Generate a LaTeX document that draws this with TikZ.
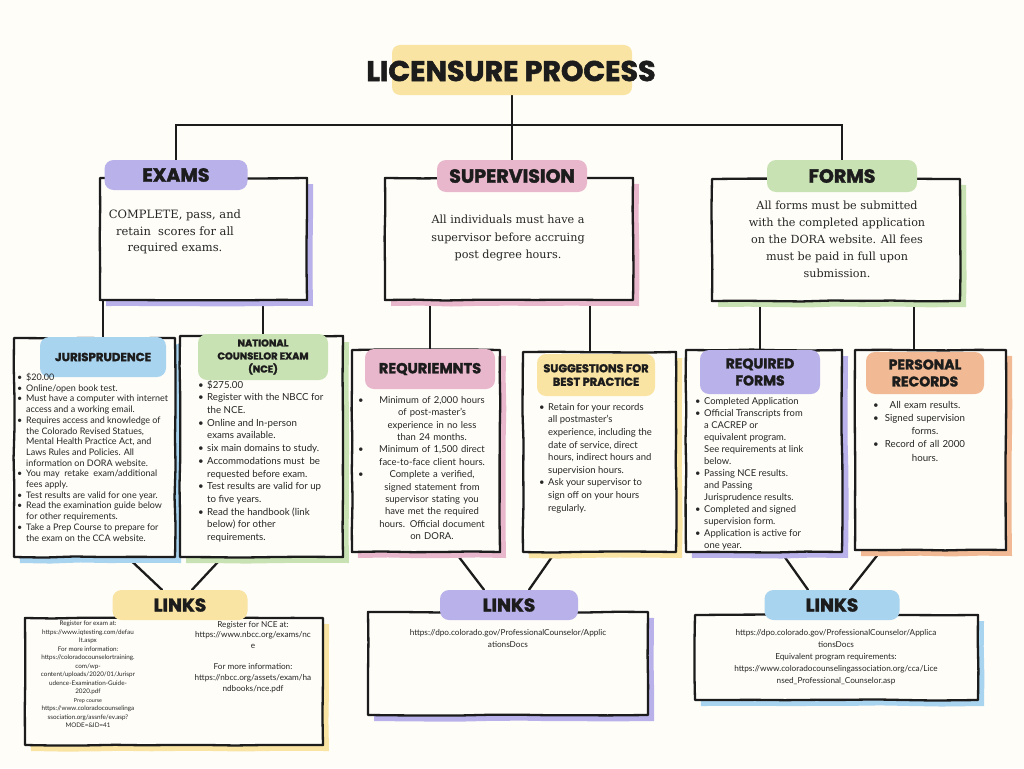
\documentclass[tikz,border=0pt]{standalone}
\usepackage{fontspec}
\setmainfont{Lato}
\newfontfamily\labf{Poppins}[BoldFeatures={FakeBold=2}]
\newfontfamily\serf{DejaVu Serif}
\usetikzlibrary{shadows,decorations.pathmorphing}
\definecolor{bg}{HTML}{FEFDF8}
\definecolor{cpur}{HTML}{B9B1EA}
\definecolor{cpink}{HTML}{E8B7CC}
\definecolor{cgreen}{HTML}{C9E2B3}
\definecolor{cblue}{HTML}{A9D4EF}
\definecolor{cyel}{HTML}{F9E4A3}
\definecolor{corange}{HTML}{F1BA94}
\definecolor{ink}{HTML}{1C1C1C}
\definecolor{tx}{HTML}{262626}
\pgfdeclarelayer{bgl}
\pgfdeclarelayer{back}
\pgfsetlayers{bgl,back,main}
\newcommand{\bi}{\makebox[9pt][l]{•}}
\newcommand{\ind}{\hspace*{9pt}}
\newcommand{\cb}[1]{\makebox[\hsize]{\rlap{•}\hfill#1\hfill}}
\tikzset{
  frame/.style={draw=ink, line width=2.3pt, fill=bg, line join=round, inner sep=0pt,
    decorate, decoration={random steps, segment length=30pt, amplitude=0.6pt}},
  shad/.style={drop shadow={shadow xshift=6pt, shadow yshift=-6pt, fill=#1, opacity=1}},
  pill/.style={fill=#1, rounded corners=9pt, inner sep=0pt, text=ink, align=center},
  labtext/.style={font=\labf\bfseries\fontsize{#1}{#1}\selectfont},
  conn/.style={draw=ink, line width=2.3pt, line cap=round},
  body/.style={inner sep=0pt, align=left, text=tx},
  topbody/.style={inner sep=0pt, align=center, text=tx},
}
\begin{document}
\begin{tikzpicture}[x=1pt,y=-1pt]
\pgfmathsetseed{11}
\useasboundingbox (0,0) rectangle (1024,768);
\begin{pgfonlayer}{bgl}
\fill[bg] (0,0) rectangle (1024,768);
\end{pgfonlayer}

% title
\node[pill=cyel, minimum width=240pt, minimum height=50pt, rounded corners=8pt] (hl) at (512,70) {};
\node[labtext=28.5, text=ink, inner sep=0pt] (title) at (511,71) {LICENSURE PROCESS};

% top frames
\node[frame, shad=cpur, minimum width=207pt, minimum height=122pt] (exf) at (203.5,239) {};
\node[frame, shad=cpink, minimum width=248pt, minimum height=122pt] (svf) at (509,239) {};
\node[frame, shad=cgreen, minimum width=248pt, minimum height=122pt] (fmf) at (836,240) {};

\node[pill=cpur, minimum width=143pt, minimum height=30pt, labtext=19] (exlab) at (176,175) {EXAMS};
\node[pill=cpink, minimum width=150pt, minimum height=32pt, labtext=19] (svlab) at (512,176) {SUPERVISION};
\node[pill=cgreen, minimum width=150pt, minimum height=32pt, labtext=19] (fmlab) at (842,176) {FORMS};

\node[topbody, font=\serf\fontsize{11.5}{16.5}\selectfont] (ext) at (175,232) {COMPLETE, pass, and\\ retain~ scores for all\\ required exams.};
\node[topbody, font=\serf\fontsize{11.2}{17.5}\selectfont] (svt) at (508,238) {All individuals must have a\\ supervisor before accruing\\ post degree hours.};
\node[topbody, font=\serf\fontsize{11.2}{17}\selectfont] (fmt) at (837,239) {All forms must be submitted\\ with the completed application\\ on the DORA website. All fees\\ must be paid in full upon\\ submission.};

% second row frames
\node[frame, shad=cblue, minimum width=161pt, minimum height=219pt] (jurf) at (94.5,447.5) {};
\node[frame, shad=cgreen, minimum width=163pt, minimum height=221pt] (ncef) at (261.5,446.5) {};
\node[frame, shad=cpink, minimum width=148pt, minimum height=202pt] (reqf) at (426,451) {};
\node[frame, shad=cyel, minimum width=153pt, minimum height=200pt] (sugf) at (599.5,452) {};
\node[frame, shad=cpur, minimum width=156pt, minimum height=202pt] (rff) at (764,451) {};
\node[frame, shad=corange, minimum width=151pt, minimum height=200pt] (prf) at (930.5,450) {};

\node[pill=cblue, minimum width=126pt, minimum height=40pt, labtext=11.8] (jurlab) at (103,357) {JURISPRUDENCE};
\node[pill=cgreen, minimum width=130pt, minimum height=46pt, font=\labf\bfseries\fontsize{9.9}{13}\selectfont] (ncelab) at (263,357) {NATIONAL\\COUNSELOR EXAM\\(NCE)};
\node[pill=cpink, minimum width=130pt, minimum height=40pt, labtext=14.5] (reqlab) at (430,369) {REQURIEMNTS};
\node[pill=cyel, minimum width=118pt, minimum height=42pt, font=\labf\bfseries\fontsize{11.4}{13.5}\selectfont] (suglab) at (596,375) {SUGGESTIONS FOR\\BEST PRACTICE};
\node[pill=cpur, minimum width=120pt, minimum height=44pt, font=\labf\bfseries\fontsize{14}{17}\selectfont] (rflab) at (760,372) {REQUIRED\\FORMS};
\node[pill=corange, minimum width=118pt, minimum height=42pt, font=\labf\bfseries\fontsize{14}{17}\selectfont] (prlab) at (925,373) {PERSONAL\\RECORDS};

% second row texts
\node[body, anchor=north west, font=\fontsize{9}{10.7}\selectfont] (jurt) at (17,373) {\bi\$20.00\\
\bi Online/open book test.\\
\bi Must have a computer with internet\\
\ind access and a working email.\\
\bi Requires access and knowledge of\\
\ind the Colorado Revised Statues,\\
\ind Mental Health Practice Act, and\\
\ind Laws Rules and Policies. All\\
\ind information on DORA website.\\
\bi You may~ retake~ exam/additional\\
\ind fees apply.\\
\bi Test results are valid for one year.\\
\bi Read the examination guide below\\
\ind for other requirements.\\
\bi Take a Prep Course to prepare for\\
\ind the exam on the CCA website.};

\node[body, anchor=north west, font=\fontsize{9.7}{12.7}\selectfont] (ncet) at (198,380) {\bi\$275.00\\
\bi Register with the NBCC for\\
\ind the NCE.\\
\bi Online and In-person\\
\ind exams available.\\
\bi six main domains to study.\\
\bi Accommodations must~ be\\
\ind requested before exam.\\
\bi Test results are valid for up\\
\ind to five years.\\
\bi Read the handbook (link\\
\ind below) for other\\
\ind requirements.};

\node[body, align=center, text width=148pt, anchor=north, font=\fontsize{9.5}{12.4}\selectfont] (reqt) at (432,396) {\cb{Minimum of 2,000 hours}\\
of post-master's\\
experience in no less\\
than 24 months.\\
\cb{Minimum of 1,500 direct}\\
face-to-face client hours.\\
\cb{Complete a verified,}\\
signed statement from\\
supervisor stating you\\
have met the required\\
hours. Official document\\
on DORA.};

\node[body, anchor=north west, font=\fontsize{9.5}{12.6}\selectfont] (sugt) at (539,403) {\bi Retain for your records\\
\ind all postmaster's\\
\ind experience, including the\\
\ind date of service, direct\\
\ind hours, indirect hours and\\
\ind supervision hours.\\
\bi Ask your supervisor to\\
\ind sign off on your hours\\
\ind regularly.};

\node[body, anchor=north west, font=\fontsize{9.4}{12}\selectfont] (rft) at (695,397) {\bi Completed Application\\
\bi Official Transcripts from\\
\ind a CACREP or\\
\ind equivalent program.\\
\ind See requirements at link\\
\ind below.\\
\bi Passing NCE results.\\
\ind and Passing\\
\ind Jurisprudence results.\\
\bi Completed and signed\\
\ind supervision form.\\
\bi Application is active for\\
\ind one year.};

\node[body, align=center, text width=104pt, anchor=north, font=\fontsize{9.7}{13.2}\selectfont] (prt) at (925,401) {\cb{All exam results.}\\
\cb{Signed supervision}\\
forms.\\
\cb{Record of all 2000}\\
hours.};

% links frames
\node[frame, shad=cyel, minimum width=298pt, minimum height=127pt] (l1f) at (174,681.5) {};
\node[frame, shad=cpur, minimum width=280pt, minimum height=103pt] (l2f) at (508,663.5) {};
\node[frame, shad=cblue, minimum width=283pt, minimum height=85pt] (l3f) at (836.5,657.5) {};

\node[pill=cyel, minimum width=135pt, minimum height=30pt, labtext=18.5] (l1lab) at (180,605) {LINKS};
\node[pill=cpur, minimum width=138pt, minimum height=30pt, labtext=18.5] (l2lab) at (509,605) {LINKS};
\node[pill=cblue, minimum width=135pt, minimum height=30pt, labtext=18.5] (l3lab) at (832,605) {LINKS};

\node[body, align=center, anchor=north, font=\fontsize{6.3}{8.5}\selectfont] (l1a) at (88,621) {Register for exam at:\\
https://www.iqtesting.com/defau\\
lt.aspx\\
For more information:\\
https://coloradocounselortraining.\\
com/wp-\\
content/uploads/2020/01/Jurispr\\
udence-Examination-Guide-\\
2020.pdf\\
{\fontsize{5.4}{8.5}\selectfont Prep course}\\
https://www.coloradocounselinga\\
ssociation.org/assnfe/ev.asp?\\
MODE=\&ID=41};

\node[body, align=center, anchor=north, font=\fontsize{8.2}{10.7}\selectfont] (l1b) at (253,621) {Register for NCE at:\\
https://www.nbcc.org/exams/nc\\
e\\[10.7pt]
For more information:\\
https://nbcc.org/assets/exam/ha\\
ndbooks/nce.pdf};

\node[body, align=center, anchor=north, font=\fontsize{8.2}{12}\selectfont] (l2t) at (508,629) {https://dpo.colorado.gov/ProfessionalCounselor/Applic\\
ationsDocs};

\node[body, align=center, anchor=north, font=\fontsize{8.2}{12}\selectfont] (l3t) at (836,629) {https://dpo.colorado.gov/ProfessionalCounselor/Applica\\
tionsDocs\\
Equivalent program requirements:\\
https://www.coloradocounselingassociation.org/cca/Lice\\
nsed\_Professional\_Counselor.asp};

% connectors
\begin{pgfonlayer}{back}
\coordinate (j) at (512,125);
\draw[conn] (hl.south) -- (j);
\draw[conn] (exlab.north) |- (j) -| (fmlab.north);
\draw[conn] (j) -- (svlab.north);
\draw[conn] (exf.south -| jurlab.north) -- (jurlab.north);
\draw[conn] (exf.south -| ncelab.north) -- (ncelab.north);
\draw[conn] (svf.south -| reqlab.north) -- (reqlab.north);
\draw[conn] ([xshift=-6pt]svf.south -| suglab.north) -- ([xshift=-6pt]suglab.north);
\draw[conn] (fmf.south -| rflab.north) -- (rflab.north);
\draw[conn] ([xshift=-11pt]fmf.south -| prlab.north) -- ([xshift=-11pt]prlab.north);
\draw[conn] ([xshift=34pt]jurf.south) -- ([xshift=-18pt]l1lab.north);
\draw[conn] ([xshift=-40pt]ncef.south) -- ([xshift=12pt]l1lab.north);
\draw[conn] ([xshift=30pt]reqf.south) -- ([xshift=-25pt]l2lab.north);
\draw[conn] ([xshift=-45pt]sugf.south) -- ([xshift=20pt]l2lab.north);
\draw[conn] ([xshift=18pt]rff.south) -- ([xshift=-24pt]l3lab.north);
\draw[conn] ([xshift=-50pt]prf.south) -- ([xshift=18pt]l3lab.north);
\end{pgfonlayer}
\end{tikzpicture}
\end{document}
